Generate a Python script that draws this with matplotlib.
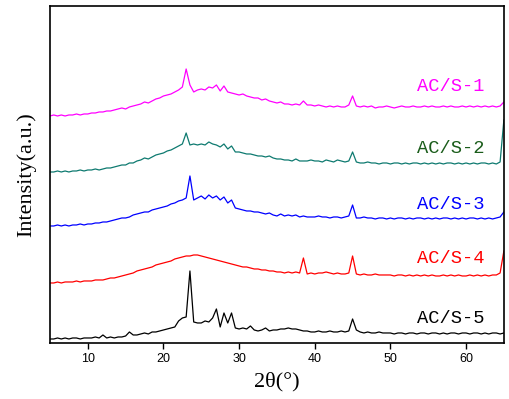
import numpy as np
import matplotlib
matplotlib.use("Agg")
import matplotlib.pyplot as plt

# 2theta grid, 0.5 deg steps from 5 to 65
two_theta = np.arange(5, 65.01, 0.5)

s1 = [227, 228, 227, 228, 227, 228, 228, 229, 228, 229,
      229, 230, 230, 231, 231, 232, 232, 233, 234, 235,
      234, 236, 237, 238, 239, 241, 240, 242, 244, 245,
      247, 248, 249, 251, 253, 256, 274, 258, 251, 253,
      254, 253, 256, 255, 258, 252, 257, 251, 250, 249,
      248, 249, 247, 246, 245, 245, 243, 244, 242, 241,
      240, 241, 239, 239, 238, 239, 238, 242, 238, 238,
      237, 238, 237, 236, 237, 236, 237, 236, 236, 238,
      247, 237, 236, 237, 236, 237, 235, 236, 236, 237,
      236, 235, 236, 237, 236, 236, 237, 236, 236, 237,
      236, 237, 236, 236, 237, 236, 237, 236, 236, 237,
      236, 237, 236, 237, 236, 237, 236, 237, 236, 237,
      241]

s2 = [171, 171, 172, 171, 172, 171, 172, 172, 173, 172,
      173, 173, 174, 173, 174, 175, 175, 176, 177, 178,
      178, 180, 180, 182, 183, 185, 184, 186, 188, 189,
      190, 192, 193, 195, 197, 199, 210, 198, 199, 198,
      199, 198, 201, 199, 198, 196, 199, 194, 197, 191,
      191, 190, 189, 189, 188, 187, 187, 186, 187, 185,
      184, 184, 183, 183, 182, 184, 182, 182, 182, 183,
      182, 182, 181, 183, 182, 181, 183, 182, 181, 182,
      191, 181, 180, 180, 181, 180, 180, 179, 180, 180,
      179, 180, 180, 179, 180, 179, 180, 180, 179, 180,
      179, 180, 179, 180, 179, 180, 180, 179, 180, 179,
      180, 179, 180, 179, 180, 180, 179, 180, 179, 181,
      223]

s3 = [117, 117, 118, 117, 118, 117, 118, 118, 119, 118,
      119, 119, 120, 120, 121, 121, 122, 123, 124, 125,
      125, 126, 128, 129, 130, 131, 131, 133, 134, 135,
      136, 137, 139, 140, 142, 143, 145, 167, 143, 145,
      147, 144, 148, 145, 147, 143, 146, 140, 143, 135,
      134, 133, 132, 132, 131, 131, 130, 129, 130, 128,
      127, 129, 127, 128, 127, 128, 126, 127, 126, 126,
      126, 127, 126, 126, 125, 126, 126, 125, 126, 127,
      138, 125, 125, 126, 125, 125, 124, 125, 125, 124,
      125, 124, 125, 125, 124, 125, 124, 125, 125, 124,
      125, 124, 125, 124, 125, 125, 124, 125, 124, 125,
      124, 125, 125, 124, 125, 124, 125, 124, 125, 126,
      131]

s4 = [60, 60, 61, 60, 61, 61, 61, 62, 61, 62,
      62, 62, 63, 63, 63, 64, 65, 65, 66, 67,
      68, 69, 70, 72, 73, 74, 75, 76, 78, 79,
      80, 81, 82, 84, 85, 86, 87, 87, 88, 88,
      87, 86, 85, 84, 83, 82, 81, 80, 79, 78,
      77, 76, 76, 75, 74, 74, 73, 73, 72, 72,
      71, 71, 70, 71, 70, 71, 70, 85, 69, 70,
      69, 70, 70, 71, 70, 69, 70, 69, 69, 70,
      87, 69, 68, 69, 68, 68, 69, 68, 68, 68,
      68, 67, 68, 68, 67, 68, 67, 68, 67, 68,
      67, 68, 67, 67, 68, 67, 68, 67, 68, 67,
      67, 68, 67, 68, 67, 68, 67, 68, 68, 70,
      92]

s5 = [4, 4, 5, 4, 5, 4, 5, 5, 4, 5,
      5, 5, 6, 5, 8, 5, 6, 5, 6, 6,
      7, 11, 8, 8, 9, 10, 9, 11, 11, 12,
      13, 14, 15, 16, 22, 25, 26, 72, 21, 20,
      20, 22, 21, 25, 34, 16, 30, 20, 30, 15,
      14, 15, 14, 17, 13, 12, 13, 15, 12, 13,
      13, 14, 14, 15, 14, 14, 13, 12, 12, 11,
      11, 12, 11, 11, 12, 11, 11, 12, 11, 12,
      24, 13, 11, 10, 11, 10, 10, 11, 10, 10,
      10, 9, 10, 10, 9, 10, 10, 9, 10, 10,
      9, 10, 10, 9, 10, 9, 10, 10, 9, 10,
      10, 9, 10, 10, 9, 10, 9, 10, 10, 9,
      10]

names = ["AC/S-1", "AC/S-2", "AC/S-3", "AC/S-4", "AC/S-5"]
line_colors = ["#FF00FF", "#0E7A70", "#0000FF", "#FF0000", "#000000"]
text_colors = ["#FF00FF", "#1A5C1A", "#0000FF", "#FF0000", "#000000"]
label_y = [256, 194, 138, 84, 24]

fig = plt.figure(figsize=(5.1, 3.99), dpi=100)
ax = fig.add_axes([0.098, 0.1404, 0.890, 0.8446])

for s, c in zip([s1, s2, s3, s4, s5], line_colors):
    ax.plot(two_theta, s, color=c, lw=0.9)

for n, c, y in zip(names, text_colors, label_y):
    ax.text(62.4, y, n, color=c, fontsize=13.5, family="Liberation Mono",
            ha="right", va="center")

ax.set_xlim(5, 65)
ax.set_ylim(0, 337)
ax.set_xticks([10, 20, 30, 40, 50, 60])
ax.set_yticks([])
ax.tick_params(axis="x", direction="out", length=4, width=1, labelsize=9)
for lab in ax.get_xticklabels():
    lab.set_family("Liberation Sans")
for sp in ax.spines.values():
    sp.set_linewidth(1.2)

ax.set_xlabel("2θ(°)", fontsize=16, family="Liberation Serif", labelpad=5)
ax.set_ylabel("Intensity(a.u.)", fontsize=16, family="Liberation Serif", labelpad=10)

fig.savefig("out.png", dpi=100)
